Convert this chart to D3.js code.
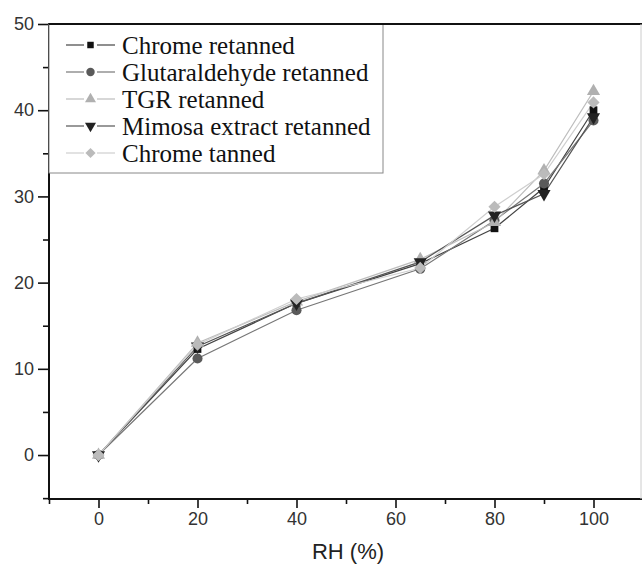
<!DOCTYPE html>
<html>
<head>
<meta charset="utf-8">
<script src="https://cdn.jsdelivr.net/npm/d3@7"></script>
<style>
  body { margin: 0; background: #fff; }
  svg { display: block; }
</style>
</head>
<body>
<div id="chart"></div>
<script>
// Data
const rh = [0, 20, 40, 65, 80, 90, 100];
const seriesNames = ["Chrome retanned", "Glutaraldehyde retanned", "TGR retanned", "Mimosa extract retanned", "Chrome tanned"];
const chromeRetanned = [0, 12.3, 17.6, 22.2, 26.3, 31.0, 40.0];
const glutaraldehyde = [0, 11.2, 16.8, 21.6, 27.2, 31.5, 38.8];
const tgr = [0, 13.0, 17.8, 22.7, 27.0, 33.0, 42.2];
const mimosa = [0, 12.6, 17.6, 22.4, 27.8, 30.3, 39.2];
const chromeTanned = [0, 12.8, 18.1, 21.7, 28.8, 32.6, 40.9];
const xTicks = [0, 20, 40, 60, 80, 100];
const yTicks = [0, 10, 20, 30, 40, 50];

const width = 642, height = 564;
const x = d3.scaleLinear().domain([-10, 110]).range([49, 643]);
const y = d3.scaleLinear().domain([-5.1, 50]).range([499, 24]);

const svg = d3.select("#chart").append("svg")
  .attr("width", width)
  .attr("height", height);

// Series styling
const styles = [
  {name: seriesNames[0], values: chromeRetanned, symbol: d3.symbolSquare, size: 60, rot: 0, fill: "#111", line: "#444"},
  {name: seriesNames[1], values: glutaraldehyde, symbol: d3.symbolCircle, size: 80, rot: 0, fill: "#5a5a5a", line: "#777"},
  {name: seriesNames[2], values: tgr, symbol: d3.symbolTriangle, size: 75, rot: 0, fill: "#b0b0b0", line: "#bdbdbd"},
  {name: seriesNames[3], values: mimosa, symbol: d3.symbolTriangle, size: 75, rot: 180, fill: "#222", line: "#555"},
  {name: seriesNames[4], values: chromeTanned, symbol: d3.symbolDiamond2, size: 95, rot: 0, fill: "#bbbbbb", line: "#cfcfcf"}
];

// Axes
const yAxis = svg.append("g")
  .attr("transform", `translate(${x(-10)},0)`)
  .call(d3.axisLeft(y).tickValues(yTicks).tickSize(11).tickPadding(4).tickFormat(d3.format("d")));
yAxis.select(".domain").remove();
svg.append("g")
  .attr("transform", `translate(${x(-10)},0)`)
  .call(d3.axisLeft(y).tickValues([-5, 5, 15, 25, 35, 45]).tickSize(6).tickFormat(""))
  .select(".domain").remove();

const xAxis = svg.append("g")
  .attr("transform", `translate(0,${y(-5.1)})`)
  .call(d3.axisBottom(x).tickValues(xTicks).tickSize(9).tickPadding(4).tickFormat(d3.format("d")));
xAxis.select(".domain").remove();
svg.append("g")
  .attr("transform", `translate(0,${y(-5.1)})`)
  .call(d3.axisBottom(x).tickValues([-10, 10, 30, 50, 70, 90, 110]).tickSize(5).tickFormat(""))
  .select(".domain").remove();

svg.selectAll(".tick line").attr("stroke", "#111").attr("stroke-width", 1.6);
svg.selectAll(".tick text")
  .attr("font-family", "'Liberation Sans', Arial, sans-serif")
  .attr("font-size", 18)
  .attr("fill", "#333");

// Frame lines
svg.append("line").attr("x1", x(-10)).attr("x2", x(-10)).attr("y1", y(50) - 1).attr("y2", y(-5.1) + 1)
  .attr("stroke", "#111").attr("stroke-width", 2);
svg.append("line").attr("x1", x(-10) - 1).attr("x2", width).attr("y1", y(-5.1)).attr("y2", y(-5.1))
  .attr("stroke", "#111").attr("stroke-width", 2);
svg.append("line").attr("x1", x(-10)).attr("x2", width).attr("y1", y(50)).attr("y2", y(50))
  .attr("stroke", "#111").attr("stroke-width", 2);
svg.append("line").attr("x1", 641).attr("x2", 641).attr("y1", y(50)).attr("y2", y(-5.1))
  .attr("stroke", "#ccc").attr("stroke-width", 1);

// Lines and markers
const line = d3.line().x((d, i) => x(rh[i])).y(d => y(d));
styles.forEach(s => {
  svg.append("path")
    .datum(s.values)
    .attr("fill", "none")
    .attr("stroke", s.line)
    .attr("stroke-width", 1.2)
    .attr("d", line);
});
styles.forEach(s => {
  svg.append("g").selectAll("path")
    .data(s.values)
    .join("path")
    .attr("d", d3.symbol().type(s.symbol).size(s.size))
    .attr("transform", (d, i) => `translate(${x(rh[i])},${y(d)}) rotate(${s.rot})`)
    .attr("fill", s.fill);
});

// Axis title
svg.append("text")
  .attr("x", 348)
  .attr("y", 559)
  .attr("text-anchor", "middle")
  .attr("font-family", "'Liberation Sans', Arial, sans-serif")
  .attr("font-size", 22)
  .attr("fill", "#222")
  .text("RH (%)");

// Legend
const legend = svg.append("g");
legend.append("rect")
  .attr("x", x(-10))
  .attr("y", y(50))
  .attr("width", 383 - x(-10))
  .attr("height", 173 - y(50))
  .attr("fill", "#fff")
  .attr("stroke", "#888")
  .attr("stroke-width", 1);
// redraw the top edge over the legend box
legend.append("line").attr("x1", x(-10)).attr("x2", 384).attr("y1", y(50)).attr("y2", y(50))
  .attr("stroke", "#111").attr("stroke-width", 2);

styles.forEach((s, i) => {
  const row = legend.append("g").attr("transform", `translate(0,${45 + i * 27})`);
  row.append("line").attr("x1", 66).attr("x2", 84).attr("y1", 0).attr("y2", 0)
    .attr("stroke", s.line).attr("stroke-width", 1.2);
  row.append("line").attr("x1", 97).attr("x2", 115).attr("y1", 0).attr("y2", 0)
    .attr("stroke", s.line).attr("stroke-width", 1.2);
  row.append("path")
    .attr("d", d3.symbol().type(s.symbol).size(s.size * 0.7))
    .attr("transform", `translate(90.5,0) rotate(${s.rot})`)
    .attr("fill", s.fill);
  row.append("text")
    .attr("x", 122)
    .attr("y", 8.5)
    .attr("font-family", "'Liberation Serif', 'Times New Roman', serif")
    .attr("font-size", 25)
    .attr("fill", "#111")
    .text(s.name);
});
</script>
</body>
</html>
